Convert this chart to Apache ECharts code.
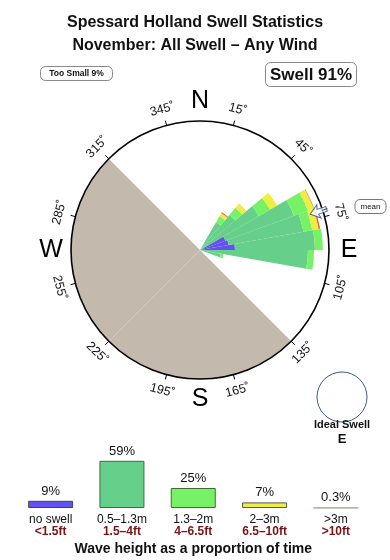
<!DOCTYPE html>
<html>
<head>
<meta charset="utf-8">
<script src="https://cdn.jsdelivr.net/npm/echarts@6/dist/echarts.min.js"></script>
<style>
html,body{margin:0;padding:0;background:#fff;}
#chart{width:390px;height:560px;}
</style>
</head>
<body>
<div id="chart"></div>
<script>
// ---- Data ----
const titleLines = ['Spessard Holland Swell Statistics', 'November: All Swell \u2013 Any Wind'];
const tooSmallPct = 9;
const swellPct = 91;
const meanDirection = 72; // degrees (compass)
const idealSwellDir = 'E';

// Rose: direction bins (start bearing, 10 degree wide), lengths relative to circle radius (=100)
const roseBinStarts = [30, 40, 50, 60, 70, 80, 90, 100];
const roseNoSwell   = [0, 0, 0, 20.9, 22.5, 27.1, 0, 0];
const roseLow       = [24.8, 35.7, 52.7, 56.6, 58.9, 62.0, 83.7, 16.3];   // 0.5-1.3m
const roseMid       = [5.4, 7.0, 10.1, 11.6, 7.0, 6.2, 4.7, 2.3];         // 1.3-2m
const roseHigh      = [2.7, 4.3, 6.2, 4.7, 5.0, 0, 0, 0];                 // 2-3m
const roseHuge      = [0.8, 0, 0, 0.4, 1.2, 0, 0, 0];                     // >3m

// Land (blocked) sector, 45 degree bins starting at N
const landBins = [0, 0, 0, 1, 1, 1, 1, 0];

// Compass ticks
const tickBearings = [15, 45, 75, 105, 135, 165, 195, 225, 255, 285, 315, 345];
const cardinals = [['N', 0], ['E', 90], ['S', 180], ['W', 270]];

// Legend bars
const waveCats = ['no swell', '0.5\u20131.3m', '1.3\u20132m', '2\u20133m', '>3m'];
const waveFeet = ['<1.5ft', '1.5\u20134ft', '4\u20136.5ft', '6.5\u201310ft', '>10ft'];
const wavePct  = [9, 59, 25, 7, 0.3];

// ---- Styling ----
const FONT = 'Liberation Sans, Arial, Helvetica, sans-serif';
const colors = ['#6252f2', '#66cf8a', '#77f266', '#eeee3e', '#e8643c'];
const legendBorder = ['#444', '#3d6b4c', '#3f6b35', '#555', '#b8a0a0'];
const CX = 200, CY = 250, R = 129;

function toBins(vals) {
  const arr = new Array(36).fill(0);
  roseBinStarts.forEach((b, i) => { arr[b / 10] = vals[i]; });
  return arr;
}
const binNames = Array.from({length: 36}, (_, i) => String(i * 10));

const chart = echarts.init(document.getElementById('chart'), null, {renderer: 'canvas'});

const hiddenAxis = {axisLine: {show: false}, axisTick: {show: false}, axisLabel: {show: false}, splitLine: {show: false}};

const series = [];
series.push({
  type: 'bar', coordinateSystem: 'polar', polarIndex: 1,
  data: landBins, barCategoryGap: '0%', barWidth: '100%', itemStyle: {color: '#c4b9ad'}, z: 1, silent: true
});
[roseNoSwell, roseLow, roseMid, roseHigh, roseHuge].forEach((vals, k) => {
  series.push({
    type: 'bar', coordinateSystem: 'polar', polarIndex: 0,
    stack: 'rose', data: toBins(vals), barCategoryGap: '0%', barWidth: '100%',
    itemStyle: {color: colors[k]}, z: 3, silent: true
  });
});
// mean direction arrow
series.push({
  type: 'scatter', coordinateSystem: 'polar', polarIndex: 3,
  data: [[96.5, meanDirection]],
  symbol: 'path://M5,0 L10,8 L6.8,7 L6.8,15 L3.2,15 L3.2,7 L0,8 Z',
  symbolSize: [14, 17], symbolRotate: 180 - meanDirection,
  itemStyle: {color: '#ffffff', borderColor: '#2a4a88', borderWidth: 1}, z: 6, silent: true
});
// legend bars
series.push({
  type: 'bar', xAxisIndex: 0, yAxisIndex: 0, barWidth: 45,
  data: wavePct.map((v, i) => ({value: v, itemStyle: {color: colors[i], borderColor: legendBorder[i], borderWidth: 1}})),
  label: {show: true, position: 'top', distance: 3, formatter: p => p.value + '%', fontFamily: FONT, fontSize: 13, color: '#111'},
  silent: true
});

// tick labels & cardinals as text positioned from the polar geometry
const graphics = [];
tickBearings.forEach(b => {
  const rad = b * Math.PI / 180;
  const r = 145.5;
  const rotDeg = (b <= 90 || b >= 270) ? -b : 180 - b;
  graphics.push({
    type: 'text', x: CX + r * Math.sin(rad), y: CY - r * Math.cos(rad),
    rotation: rotDeg * Math.PI / 180,
    style: {text: b + '\u02DA', font: '12.5px ' + FONT, fill: '#111', align: 'center', verticalAlign: 'middle'},
    z: 10
  });
});
cardinals.forEach(([t, b]) => {
  const rad = b * Math.PI / 180, r = 149;
  graphics.push({
    type: 'text', x: CX + r * Math.sin(rad), y: CY - r * Math.cos(rad),
    style: {text: t, font: '25px ' + FONT, fill: '#000', align: 'center', verticalAlign: 'middle'},
    z: 10
  });
});
// mean leader line and label
(function(){
  const rad = meanDirection * Math.PI / 180;
  graphics.push({type: 'line', shape: {x1: CX + 128 * Math.sin(rad), y1: CY - 128 * Math.cos(rad), x2: CX + 134 * Math.sin(rad), y2: CY - 134 * Math.cos(rad)}, style: {stroke: '#2a4a88', lineWidth: 1}, z: 10});
  graphics.push({type: 'rect', shape: {x: 355, y: 199.5, width: 31, height: 14, r: 5}, style: {fill: '#fff', stroke: '#777', lineWidth: 1}, z: 10});
  graphics.push({type: 'text', x: 370.5, y: 206.5, style: {text: 'mean', font: '8px ' + FONT, fill: '#111', align: 'center', verticalAlign: 'middle'}, z: 11});
})();
// Too small / Swell boxes
graphics.push({type: 'rect', shape: {x: 40.5, y: 66.5, width: 72, height: 14, r: 5}, style: {fill: '#fff', stroke: '#888', lineWidth: 1}, z: 10});
graphics.push({type: 'text', x: 76.5, y: 73.5, style: {text: 'Too Small ' + tooSmallPct + '%', font: 'bold 8.5px ' + FONT, fill: '#111', align: 'center', verticalAlign: 'middle'}, z: 11});
graphics.push({type: 'rect', shape: {x: 265.5, y: 62.5, width: 91, height: 24, r: 5}, style: {fill: '#fff', stroke: '#888', lineWidth: 1}, z: 10});
graphics.push({type: 'text', x: 311, y: 75, style: {text: 'Swell ' + swellPct + '%', font: 'bold 17px ' + FONT, fill: '#111', align: 'center', verticalAlign: 'middle'}, z: 11});
// Ideal swell
graphics.push({type: 'circle', shape: {cx: 342, cy: 397, r: 25}, style: {fill: 'none', stroke: '#3a5a88', lineWidth: 1}, z: 10});
graphics.push({type: 'text', x: 342, y: 425, style: {text: 'Ideal Swell', font: 'bold 11px ' + FONT, fill: '#111', align: 'center', verticalAlign: 'middle'}, z: 11});
graphics.push({type: 'text', x: 342, y: 439, style: {text: idealSwellDir, font: 'bold 13px ' + FONT, fill: '#111', align: 'center', verticalAlign: 'middle'}, z: 11});

const option = {
  backgroundColor: '#fff',
  animation: false,
  title: {
    text: titleLines.join('\n'), left: 'center', top: 6,
    textStyle: {fontFamily: FONT, fontSize: 16, fontWeight: 'bold', color: '#111', lineHeight: 23}
  },
  polar: [
    {center: [CX, CY], radius: R},
    {center: [CX, CY], radius: R},
    {center: [CX, CY], radius: R},
    {center: [CX, CY], radius: R}
  ],
  angleAxis: [
    Object.assign({polarIndex: 0, type: 'category', data: binNames, startAngle: 90, clockwise: true}, hiddenAxis),
    Object.assign({polarIndex: 1, type: 'category', data: landBins.map((_, i) => String(i * 45)), startAngle: 90, clockwise: true}, hiddenAxis),
    {polarIndex: 2, type: 'value', min: 0, max: 360, interval: 30, startAngle: 75, clockwise: true,
     axisLine: {show: true, lineStyle: {color: '#000', width: 1.6}},
     axisTick: {show: true, inside: false, length: 5, lineStyle: {color: '#000', width: 1}},
     axisLabel: {show: false}, splitLine: {show: false}, z: 5},
    Object.assign({polarIndex: 3, type: 'value', min: 0, max: 360, startAngle: 90, clockwise: true}, hiddenAxis)
  ],
  radiusAxis: [
    Object.assign({polarIndex: 0, type: 'value', min: 0, max: 100}, hiddenAxis),
    Object.assign({polarIndex: 1, type: 'value', min: 0, max: 1}, hiddenAxis),
    Object.assign({polarIndex: 2, type: 'value', min: 0, max: 1}, hiddenAxis),
    Object.assign({polarIndex: 3, type: 'value', min: 0, max: 100}, hiddenAxis)
  ],
  grid: {left: 15, right: 18.5, top: 444, height: 64},
  xAxis: {
    type: 'category', data: waveCats,
    axisLine: {show: false}, axisTick: {show: false},
    axisLabel: {
      margin: 5, interval: 0,
      formatter: (v, i) => '{a|' + v + '}\n{b|' + waveFeet[i] + '}',
      rich: {
        a: {fontFamily: FONT, fontSize: 12, color: '#111', lineHeight: 12.5},
        b: {fontFamily: FONT, fontSize: 12, fontWeight: 'bold', color: '#7a1414', lineHeight: 12.5}
      }
    },
    name: 'Wave height as a proportion of time', nameLocation: 'middle', nameGap: 34,
    nameTextStyle: {fontFamily: FONT, fontSize: 14, fontWeight: 'bold', color: '#111'}
  },
  yAxis: {type: 'value', min: 0, max: 80, show: false},
  graphic: graphics,
  series: series
};
chart.setOption(option);
</script>
</body>
</html>
